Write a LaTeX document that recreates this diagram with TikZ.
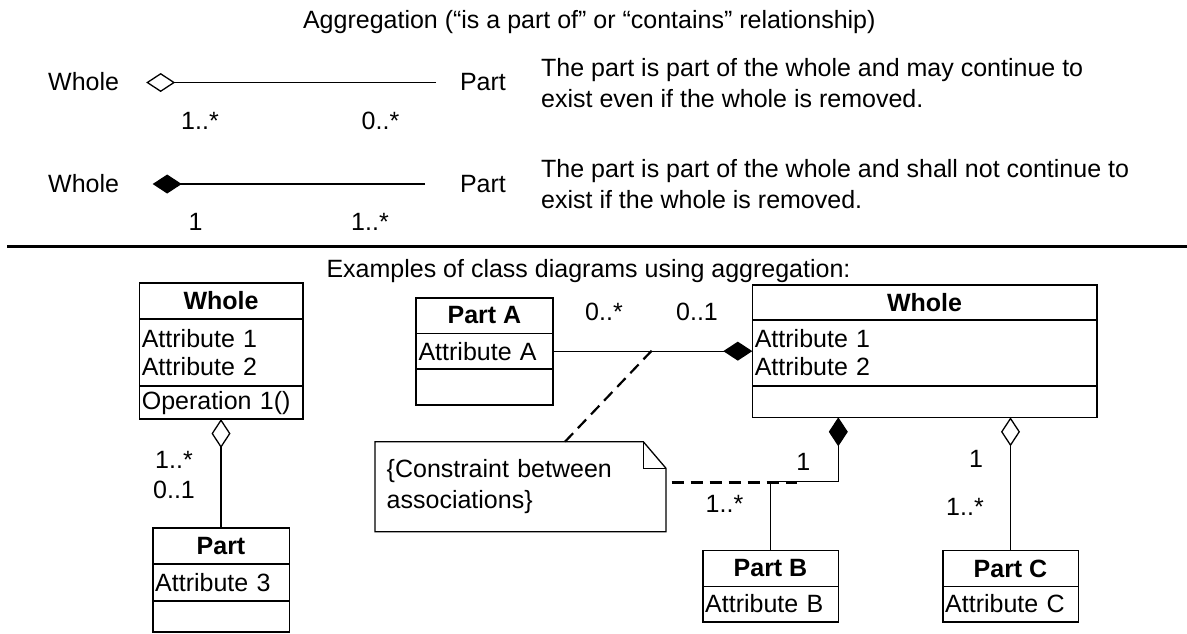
\documentclass[tikz,border=0pt]{standalone}
\usepackage{fontspec}
\setmainfont{Liberation Sans}
\usetikzlibrary{positioning, arrows.meta}

\tikzset{
  txt/.style={inner sep=0pt, anchor=base},
  box/.style={draw, line width=1.6pt, outer sep=0pt, inner xsep=2.5pt, inner ysep=0pt, font=\fontsize{25}{28}\selectfont},
  boxhead/.style={box, font=\fontsize{25}{28}\selectfont\bfseries},
  boxbody/.style={box, align=left},
  aggr/.style={line width=1.3pt, -{Diamond[open, length=29pt, width=19pt]}},
  compo/.style={line width=1.3pt, -{Diamond[length=29pt, width=19pt]}},
  constraint/.style={line width=2.2pt, dash pattern=on 12pt off 7pt},
}

\begin{document}
\begin{tikzpicture}[x=1pt, y=-1pt, font=\fontsize{25}{31}\selectfont]
\useasboundingbox (0,0) rectangle (1187,634);

% figure title
\node[txt] at (589.3, 29) (title) {Aggregation (“is a part of” or “contains” relationship)};

% aggregation, whole and part independent
\node[txt, anchor=base west] at (48, 91) (whole1) {Whole};
\node[txt, anchor=base west] at (459.8, 91) (part1) {Part};
\draw[aggr, shorten <=23.8pt, shorten >=26.9pt] (part1.west) -- (part1.west -| whole1.east);
\node[txt] at (200, 129.7) (m1whole) {1..*};
\node[txt] at (380.5, 129.7) (m1part) {0..*};
\node[txt, anchor=base west, align=left] at (541, 107.3) (desc1) {The part is part of the whole and may continue to\\exist even if the whole is removed.};

% composition, part removed with whole
\node[txt, anchor=base west] at (48, 192.5) (whole2) {Whole};
\node[txt, anchor=base west] at (459.8, 192.5) (part2) {Part};
\draw[compo, shorten <=34.8pt, shorten >=33.4pt] (part2.west) -- (part2.west -| whole2.east);
\node[txt] at (195.7, 230.7) (m2whole) {1};
\node[txt] at (370, 230.7) (m2part) {1..*};
\node[txt, anchor=base west, align=left] at (541, 208.3) (desc2) {The part is part of the whole and shall not continue to\\exist if the whole is removed.};

% separator
\coordinate (sepL) at (7, 246.7);
\coordinate (sepR) at (1187, 246.7);
\draw[line width=3.3pt] (sepL) -- (sepR);

\node[txt] at (588.5, 277) (examples) {Examples of class diagrams using aggregation:};

% left example: whole and part
\node[boxhead, minimum width=163.4pt, minimum height=36.3pt] at (221, 300.9) (wholeL) {Whole};
\node[boxbody, minimum width=163.4pt, text width=158.4pt, minimum height=67pt, below=0pt of wholeL] (wholeLattr) {Attribute 1\\Attribute 2};
\node[boxbody, minimum width=163.4pt, text width=158.4pt, minimum height=33pt, below=0pt of wholeLattr] (wholeLop) {Operation 1()};

\node[boxhead, minimum width=136.6pt, minimum height=36pt] at (221, 546) (partL) {Part};
\node[boxbody, minimum width=136.6pt, text width=131.6pt, minimum height=37pt, below=0pt of partL] (partLattr) {Attribute 3};
\node[boxbody, minimum width=136.6pt, text width=131.6pt, minimum height=30.7pt, below=0pt of partLattr] (partLop) {};

\draw[aggr] (partL.north) -- (wholeLop.south);
\node[txt] at (174, 468.3) (mLwhole) {1..*};
\node[txt] at (174, 498.3) (mLpart) {0..1};

% right example: whole with parts A, B, C
\node[boxhead, minimum width=344.4pt, minimum height=35pt] at (924.5, 302.5) (wholeR) {Whole};
\node[boxbody, minimum width=344.4pt, text width=339.4pt, minimum height=66pt, below=0pt of wholeR] (wholeRattr) {Attribute 1\\Attribute 2};
\node[boxbody, minimum width=344.4pt, text width=339.4pt, minimum height=31.3pt, below=0pt of wholeRattr] (wholeRop) {};

\node[boxhead, minimum width=136.7pt, minimum height=35.6pt] at (484.4, 315.5) (partA) {Part A};
\node[boxbody, minimum width=136.7pt, text width=131.7pt, minimum height=35.7pt, below=0pt of partA] (partAattr) {Attribute A};
\node[boxbody, minimum width=136.7pt, text width=131.7pt, minimum height=36pt, below=0pt of partAattr] (partAop) {};

\node[boxhead, minimum width=135.6pt, minimum height=35.8pt] at (770.5, 568.4) (partB) {Part B};
\node[boxbody, minimum width=135.6pt, text width=130.6pt, minimum height=35.4pt, below=0pt of partB] (partBattr) {Attribute B};

\node[boxhead, minimum width=135.6pt, minimum height=35.8pt] at (1010.5, 568.4) (partC) {Part C};
\node[boxbody, minimum width=135.6pt, text width=130.6pt, minimum height=35.4pt, below=0pt of partC] (partCattr) {Attribute C};

% associations
\draw[compo] (partAattr.east) -- (partAattr.east -| wholeRattr.west);
\node[txt] at (604, 320) (mApart) {0..*};
\node[txt] at (697, 320) (mAwhole) {0..1};

\coordinate (bjoint) at (838.3, 481.7);
\draw[compo] (partB.north) |- (bjoint) -- (bjoint |- wholeRop.south);
\node[txt] at (803.3, 470) (mBwhole) {1};
\node[txt] at (724.5, 512.7) (mBpart) {1..*};

\draw[aggr] (partC.north) -- (partC.north |- wholeRop.south);
\node[txt] at (976, 467.3) (mCwhole) {1};
\node[txt] at (965, 515) (mCpart) {1..*};

% constraint note
\node[outer sep=0pt, minimum width=291pt, minimum height=90pt, inner xsep=11.7pt, text width=267.6pt, align=left] at (520.5, 486.7) (note) {\{Constraint between\\associations\}};
\draw[line width=1.3pt] (note.south west) -- (note.north west) -- ([xshift=-22.7pt]note.north east) -- ([yshift=-26.6pt]note.north east) -- (note.south east) -- cycle;
\draw[line width=1.3pt] ([xshift=-22.7pt]note.north east) -- ([xshift=-22.7pt, yshift=-26.6pt]note.north east) -- ([yshift=-26.6pt]note.north east);

\coordinate (assocA) at (651.7, 350.7);
\coordinate (assocB) at (797, 482.5);
\draw[constraint] (assocA) -- ([xshift=44.5pt]note.north);
\draw[constraint] ([shift={(5.7pt,4.2pt)}]note.east) -- (assocB);

\end{tikzpicture}
\end{document}
